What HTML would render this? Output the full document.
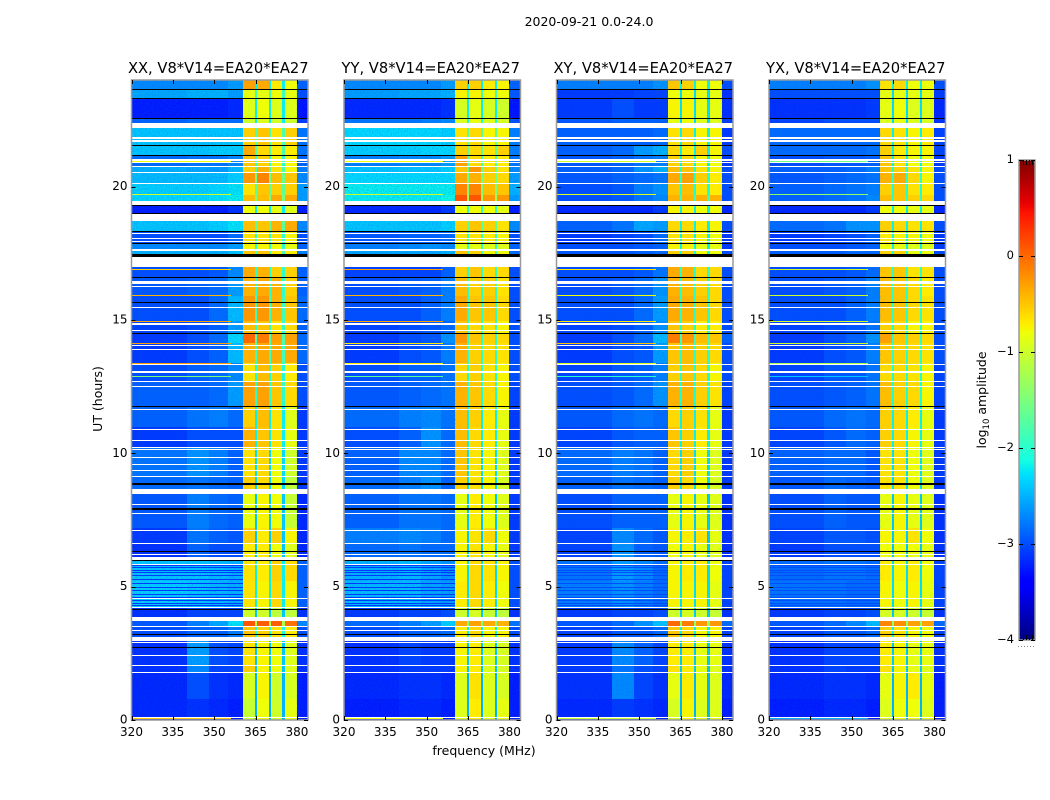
<!DOCTYPE html>
<html lang="en">
<head>
<meta charset="utf-8">
<title>2020-09-21 dynamic spectra</title>
<style>
html,body{margin:0;padding:0;background:#fff;width:1050px;height:800px;overflow:hidden}
svg{display:block}
text{font-family:"DejaVu Sans","Liberation Sans",sans-serif;fill:#000}
</style>
</head>
<body>
<svg id="figure" width="1050" height="800" viewBox="0 0 1050 800" xmlns="http://www.w3.org/2000/svg">
  <defs>
    <filter id="speckle" x="0" y="0" width="100%" height="100%">
      <feTurbulence type="fractalNoise" baseFrequency="0.8" numOctaves="1" seed="4"/>
      <feColorMatrix type="matrix" values="0 0 0 0 0  0 0 0 0 0.1  0 0 0 0 0.75  2.6 0 0 0 -1.15"/>
    </filter>
  </defs>
  <text x="589" y="26" text-anchor="middle" font-size="12.5">2020-09-21 0.0-24.0</text>
  <text x="484" y="755" text-anchor="middle" font-size="12.5">frequency (MHz)</text>
  <text x="0" y="0" transform="translate(102,399) rotate(-90)" text-anchor="middle" font-size="12.5">UT (hours)</text>
  <text x="0" y="0" transform="translate(986,400) rotate(-90)" text-anchor="middle" font-size="12.5">log<tspan font-size="8.5" dy="3">10</tspan><tspan dy="-3"> amplitude</tspan></text>
  <g id="panels"></g>
  <g id="colorbar"></g>
</svg>
<script>
// ----- chart data (UT hours, MHz, log10 amplitude) -----
const panelTitles = ["XX, V8*V14=EA20*EA27","YY, V8*V14=EA20*EA27","XY, V8*V14=EA20*EA27","YX, V8*V14=EA20*EA27"];
const panelKeys = ["xx","yy","xy","yx"];
const freqTicks = [320,335,350,365,380];
const timeTicks = [0,5,10,15,20];
const colorTicks = [1,0,-1,-2,-3,-4];

// frequency zones of each level column: 320-340, 340-348, 348-355, 355-360.4, sub-bands, edge
const zoneEdges = [[320,340],[340,348],[348,355],[355,360.4],[360.4,364.7],[365.5,369.7],[370.5,374.7],[375.5,380],[380,384]];
const notchEdges = [[364.7,365.5],[369.7,370.5],[374.7,375.5]];

// upper UT of every band; the last band runs down to 0
const bandTops = [24,23.67,23.30,22.55,22.21,21.57,21.17,20.76,20.50,20.10,19.70,19.30,18.73,18.33,17.89,17.65,16.97,16.6,15.9,14.96,14.49,14.15,13.4,12.73,11.78,11.0,10.2,9.14,8.46,7.2,6.65,6.0,5.2,4.2,3.72,3.51,2.98,2.07,1.79,0.8];

// one row per band: 4 low zones, 4 sub-bands, edge, notch
const xxLevels = [
[-2.7,-2.7,-2.7,-2.6,-.3,-.35,-.7,-.8,-2.9,-2.2],
[-2.55,-2.5,-2.5,-2.6,-.85,-.85,-.8,-.85,-3.0,-1.9],
[-3.25,-3.25,-3.25,-3.2,-.9,-.8,-.9,-.9,-3.3,-2.2],
[-2.9,-2.85,-2.85,-2.85,-1.0,-.9,-1.0,-1.0,-3.1,-2.2],
[-2.4,-2.4,-2.4,-2.4,-.55,-.5,-.65,-.55,-2.8,-1.8],
[-2.4,-2.4,-2.35,-2.35,-.35,-.6,-.7,-.7,-2.8,-1.8],
[-2.85,-2.8,-2.8,-2.7,-.5,-.55,-.75,-.75,-2.9,-2.0],
[-2.5,-2.55,-2.6,-2.45,-.55,-.4,-.65,-.75,-2.75,-1.8],
[-2.45,-2.45,-2.45,-2.35,-.25,-.15,-.45,-.5,-2.7,-1.6],
[-2.35,-2.35,-2.3,-2.25,-.65,-.5,-.55,-.55,-2.6,-1.7],
[-2.3,-2.3,-2.25,-2.2,-.45,-.45,-.35,-.35,-2.6,-1.5],
[-3.25,-3.25,-3.25,-3.15,-.8,-.8,-.85,-.9,-3.25,-2.2],
[-2.4,-2.4,-2.35,-2.25,-.45,-.5,-.4,-.35,-2.7,-1.7],
[-3.0,-3.0,-3.0,-2.85,-.65,-.65,-.65,-.75,-3.0,-2.0],
[-2.7,-2.7,-2.7,-2.6,-.75,-.75,-.8,-.85,-2.9,-2.0],
[-2.5,-2.5,-2.5,-2.4,-.5,-.5,-.7,-.7,-2.75,-1.8],
[-3.0,-3.0,-2.95,-2.7,-.35,-.4,-.55,-.55,-2.9,-2.0],
[-2.95,-2.9,-2.85,-2.6,-.4,-.35,-.4,-.55,-2.9,-2.0],
[-3.0,-3.0,-2.85,-2.45,-.25,-.25,-.4,-.5,-2.85,-1.9],
[-3.05,-3.0,-2.9,-2.6,-.45,-.5,-.65,-.6,-2.9,-2.0],
[-3.1,-3.0,-2.85,-2.3,.0,-.1,-.3,-.3,-2.85,-1.8],
[-3.1,-3.0,-2.9,-2.45,-.4,-.35,-.35,-.35,-2.85,-1.9],
[-3.0,-2.9,-2.85,-2.7,-.65,-.45,-.55,-.7,-3.0,-2.1],
[-2.9,-2.9,-2.85,-2.6,-.3,-.3,-.5,-.6,-3.0,-2.0],
[-2.9,-2.8,-2.75,-2.85,-.55,-.45,-.65,-.9,-3.1,-2.2],
[-3.1,-3.0,-3.0,-3.0,-.4,-.5,-.65,-.85,-3.1,-2.2],
[-2.8,-2.65,-2.75,-2.9,-.65,-.6,-.8,-1.0,-3.1,-2.3],
[-2.85,-2.8,-2.85,-2.9,-.55,-.6,-.8,-1.1,-3.1,-2.3],
[-2.95,-2.75,-2.85,-2.9,-.85,-.75,-.8,-1.05,-3.2,-2.4],
[-3.1,-2.8,-2.9,-2.95,-.55,-.7,-.55,-.75,-3.2,-2.4],
[-3.15,-2.9,-3.0,-3.0,-.7,-.7,-.8,-.9,-3.2,-2.4],
[-2.4,-2.4,-2.45,-2.5,-.65,-.7,-.55,-.6,-2.9,-2.2],
[-2.35,-2.4,-2.45,-2.5,-.65,-.75,-.6,-.75,-2.9,-2.2],
[-3.15,-3.05,-3.05,-3.05,-1.0,-1.0,-1.1,-1.1,-3.15,-2.4],
[-2.95,-2.75,-2.55,-2.25,.1,.05,.05,-.05,-2.7,-1.2],
[-3.0,-2.9,-2.9,-2.75,-.5,-.55,-.65,-.7,-3.0,-2.1],
[-3.15,-2.6,-3.0,-3.05,-.65,-.75,-.8,-.9,-3.15,-2.4],
[-3.15,-2.7,-3.05,-3.05,-.55,-.75,-.8,-.9,-3.15,-2.4],
[-3.2,-3.0,-3.15,-3.2,-.95,-.75,-1.0,-.95,-3.25,-2.5],
[-3.2,-3.15,-3.2,-3.25,-1.05,-.8,-1.0,-.85,-3.25,-2.5]];

const yyLevels = [
[-2.7,-2.7,-2.7,-2.6,-.55,-.55,-.7,-.75,-2.9,-2.2],
[-2.6,-2.55,-2.55,-2.5,-.75,-.75,-.8,-.8,-2.95,-1.9],
[-3.2,-3.2,-3.2,-3.15,-.95,-.85,-.95,-1.0,-3.3,-2.2],
[-2.8,-2.8,-2.75,-2.7,-.9,-.85,-.9,-.95,-3.0,-2.1],
[-2.3,-2.3,-2.3,-2.35,-.65,-.6,-.75,-.75,-2.75,-1.7],
[-2.35,-2.35,-2.3,-2.3,-.55,-.6,-.65,-.55,-2.75,-1.7],
[-2.75,-2.7,-2.7,-2.6,-.3,-.6,-.7,-.7,-2.8,-1.9],
[-2.4,-2.4,-2.4,-2.35,-.5,-.25,-.55,-.65,-2.7,-1.7],
[-2.3,-2.3,-2.3,-2.3,-.35,-.4,-.55,-.6,-2.6,-1.6],
[-2.2,-2.2,-2.2,-2.2,-.15,-.15,-.45,-.5,-2.5,-1.5],
[-2.2,-2.2,-2.2,-2.15,.1,.1,-.25,-.25,-2.6,-1.3],
[-3.2,-3.2,-3.2,-3.1,-.8,-.8,-.8,-.85,-3.25,-2.0],
[-2.4,-2.4,-2.4,-2.35,-.55,-.5,-.55,-.65,-2.7,-1.7],
[-2.95,-2.9,-2.9,-2.85,-.65,-.65,-.7,-.75,-3.0,-2.0],
[-2.75,-2.7,-2.65,-2.7,-.85,-.85,-.9,-.9,-2.9,-2.0],
[-2.55,-2.55,-2.55,-2.5,-.5,-.55,-.75,-.8,-2.85,-1.9],
[-3.05,-3.05,-3.05,-2.9,-.55,-.5,-.6,-.6,-3.0,-2.0],
[-3.0,-2.95,-2.9,-2.75,-.45,-.55,-.55,-.65,-3.0,-2.0],
[-3.0,-3.0,-2.9,-2.75,-.35,-.5,-.5,-.6,-3.0,-2.0],
[-3.05,-3.0,-2.95,-2.85,-.5,-.6,-.65,-.75,-3.0,-2.0],
[-3.1,-3.0,-2.95,-2.65,-.25,-.5,-.55,-.6,-3.0,-2.0],
[-3.1,-3.0,-2.95,-2.75,-.4,-.55,-.6,-.65,-3.0,-2.0],
[-3.0,-2.9,-2.9,-2.8,-.6,-.55,-.65,-.75,-3.0,-2.1],
[-2.95,-2.9,-2.85,-2.8,-.4,-.5,-.6,-.75,-3.05,-2.1],
[-2.85,-2.75,-2.7,-2.8,-.45,-.55,-.7,-.85,-3.1,-2.2],
[-3.0,-2.9,-2.65,-2.85,-.45,-.6,-.7,-.85,-3.1,-2.2],
[-2.9,-2.7,-2.7,-2.85,-.5,-.65,-.75,-.9,-3.1,-2.3],
[-2.85,-2.75,-2.65,-2.9,-.55,-.65,-.75,-.95,-3.1,-2.3],
[-2.9,-2.8,-2.8,-2.85,-.85,-.7,-.8,-.9,-3.1,-2.4],
[-2.75,-2.7,-2.75,-2.85,-.75,-.65,-.6,-.8,-3.1,-2.4],
[-2.85,-2.8,-2.85,-2.85,-.75,-.65,-.75,-.85,-3.1,-2.4],
[-2.5,-2.45,-2.55,-2.65,-.75,-.6,-.65,-.75,-3.0,-2.3],
[-2.45,-2.45,-2.55,-2.6,-.7,-.6,-.7,-.8,-3.0,-2.3],
[-3.1,-3.05,-3.05,-3.0,-1.0,-.95,-1.05,-1.1,-3.15,-2.4],
[-2.85,-2.75,-2.6,-2.35,-.35,-.3,-.35,-.4,-2.8,-1.5],
[-3.0,-2.9,-2.9,-2.85,-.7,-.6,-.75,-.75,-3.0,-2.2],
[-3.15,-3.05,-3.1,-3.1,-.75,-.7,-.9,-.95,-3.15,-2.4],
[-3.15,-3.1,-3.1,-3.1,-.75,-.7,-.9,-.95,-3.15,-2.4],
[-3.2,-3.15,-3.15,-3.2,-.9,-.65,-.9,-.95,-3.25,-2.5],
[-3.25,-3.2,-3.2,-3.25,-.9,-.7,-.9,-.85,-3.25,-2.5]];

const xyLevels = [
[-2.75,-2.75,-2.75,-2.65,-.5,-.55,-.8,-.8,-3.0,-2.2],
[-3.1,-3.1,-3.05,-3.05,-.8,-.8,-.85,-.85,-3.15,-2.3],
[-3.1,-3.0,-3.1,-3.1,-.75,-.75,-.85,-.85,-3.15,-2.3],
[-2.95,-2.9,-2.9,-2.9,-.85,-.8,-.9,-.9,-3.1,-2.3],
[-2.9,-2.9,-2.9,-2.85,-.65,-.6,-.75,-.75,-3.1,-2.2],
[-2.9,-2.85,-2.6,-2.5,-.6,-.7,-.55,-.75,-3.0,-2.2],
[-2.95,-2.9,-2.8,-2.75,-.55,-.6,-.75,-.8,-3.1,-2.2],
[-2.9,-2.85,-2.65,-2.5,-.45,-.5,-.65,-.75,-3.0,-2.1],
[-2.95,-2.9,-2.85,-2.8,-.35,-.3,-.55,-.7,-3.0,-2.0],
[-3.0,-2.95,-2.75,-2.65,-.5,-.45,-.65,-.7,-3.0,-2.1],
[-3.0,-2.95,-2.8,-2.7,-.4,-.4,-.4,-.4,-3.0,-1.9],
[-3.2,-3.2,-3.2,-3.1,-.75,-.75,-.8,-.8,-3.2,-2.2],
[-2.9,-2.8,-2.55,-2.6,-.6,-.6,-.7,-.75,-3.0,-2.2],
[-3.1,-3.05,-3.0,-2.85,-.65,-.65,-.75,-.8,-3.1,-2.2],
[-3.0,-3.0,-2.95,-2.9,-.75,-.75,-.85,-.85,-3.1,-2.2],
[-2.95,-2.95,-2.9,-2.85,-.55,-.55,-.8,-.8,-3.0,-2.1],
[-3.0,-3.0,-2.95,-2.8,-.35,-.4,-.6,-.6,-3.0,-2.0],
[-3.0,-2.95,-2.85,-2.65,-.4,-.45,-.55,-.6,-3.0,-2.0],
[-3.0,-3.0,-2.85,-2.6,-.35,-.4,-.5,-.6,-3.0,-2.0],
[-3.05,-3.0,-2.9,-2.65,-.5,-.55,-.7,-.7,-3.0,-2.1],
[-3.1,-3.0,-2.85,-2.45,-.1,-.25,-.45,-.5,-2.9,-1.9],
[-3.1,-3.0,-2.95,-2.6,-.5,-.45,-.55,-.6,-3.0,-2.0],
[-3.05,-2.95,-2.9,-2.75,-.55,-.5,-.6,-.75,-3.0,-2.1],
[-3.0,-2.95,-2.85,-2.65,-.4,-.4,-.55,-.65,-3.05,-2.1],
[-2.95,-2.85,-2.8,-2.85,-.6,-.55,-.65,-.85,-3.1,-2.2],
[-3.05,-2.95,-2.9,-2.9,-.5,-.55,-.7,-.85,-3.1,-2.2],
[-2.85,-2.75,-2.8,-2.9,-.6,-.55,-.8,-.9,-3.1,-2.3],
[-2.9,-2.8,-2.85,-2.9,-.55,-.6,-.8,-.95,-3.1,-2.3],
[-3.0,-2.9,-2.9,-2.9,-.85,-.75,-.85,-.9,-3.15,-2.4],
[-3.05,-2.7,-2.85,-2.95,-.75,-.7,-.65,-.85,-3.15,-2.4],
[-3.05,-2.65,-2.9,-2.95,-.8,-.75,-.85,-.9,-3.15,-2.4],
[-2.8,-2.6,-2.7,-2.85,-.75,-.7,-.7,-.8,-3.05,-2.3],
[-2.75,-2.65,-2.75,-2.85,-.75,-.75,-.75,-.85,-3.05,-2.3],
[-3.1,-3.05,-3.05,-3.0,-1.0,-.95,-1.0,-1.05,-3.15,-2.4],
[-2.95,-2.85,-2.65,-2.4,.0,-.1,-.25,-.25,-2.85,-1.4],
[-3.05,-2.95,-2.95,-2.85,-.5,-.6,-.75,-.75,-3.05,-2.2],
[-3.1,-2.7,-2.9,-3.05,-.7,-.7,-.85,-.85,-3.15,-2.4],
[-3.1,-2.8,-3.0,-3.05,-.65,-.7,-.85,-.9,-3.15,-2.4],
[-3.15,-2.7,-3.05,-3.15,-.85,-.7,-.85,-.9,-3.2,-2.5],
[-3.2,-3.1,-3.15,-3.2,-.95,-.75,-.9,-.9,-3.25,-2.5]];

const yxLevels = [
[-2.75,-2.75,-2.75,-2.65,-.65,-.6,-.8,-.8,-3.0,-2.2],
[-3.0,-3.0,-3.0,-3.0,-.85,-.85,-.85,-.85,-3.1,-2.3],
[-3.15,-3.15,-3.15,-3.1,-.85,-.8,-.9,-.9,-3.2,-2.3],
[-3.05,-3.0,-3.0,-3.0,-.9,-.85,-.9,-.95,-3.15,-2.3],
[-2.85,-2.85,-2.85,-2.85,-.6,-.65,-.75,-.7,-3.05,-2.2],
[-2.85,-2.85,-2.85,-2.8,-.55,-.7,-.75,-.75,-3.05,-2.2],
[-3.0,-2.95,-2.95,-2.9,-.5,-.65,-.8,-.8,-3.1,-2.2],
[-2.9,-2.9,-2.85,-2.75,-.5,-.55,-.65,-.75,-3.0,-2.1],
[-2.95,-2.9,-2.85,-2.8,-.4,-.35,-.6,-.75,-3.0,-2.0],
[-2.9,-2.85,-2.8,-2.75,-.55,-.5,-.65,-.7,-3.0,-2.1],
[-2.9,-2.85,-2.8,-2.7,-.45,-.5,-.55,-.6,-3.0,-2.0],
[-3.2,-3.2,-3.2,-3.1,-.8,-.8,-.85,-.85,-3.2,-2.2],
[-2.85,-2.8,-2.65,-2.65,-.55,-.6,-.65,-.65,-3.0,-2.2],
[-3.1,-3.05,-3.0,-2.9,-.7,-.75,-.75,-.8,-3.1,-2.2],
[-3.0,-3.0,-2.95,-2.9,-.8,-.85,-.9,-.9,-3.1,-2.2],
[-2.9,-2.9,-2.85,-2.85,-.55,-.55,-.85,-.85,-3.0,-2.1],
[-3.0,-3.0,-2.95,-2.85,-.5,-.5,-.65,-.65,-3.0,-2.0],
[-3.0,-2.95,-2.9,-2.75,-.45,-.5,-.6,-.7,-3.0,-2.0],
[-3.0,-3.0,-2.9,-2.75,-.45,-.5,-.6,-.65,-3.0,-2.0],
[-3.05,-3.0,-2.95,-2.8,-.55,-.6,-.75,-.75,-3.0,-2.1],
[-3.1,-3.0,-2.9,-2.65,-.3,-.5,-.55,-.6,-3.0,-2.0],
[-3.1,-3.0,-2.95,-2.75,-.5,-.55,-.6,-.65,-3.0,-2.0],
[-3.05,-2.95,-2.95,-2.8,-.6,-.6,-.65,-.75,-3.05,-2.1],
[-3.0,-2.95,-2.9,-2.8,-.45,-.55,-.6,-.75,-3.05,-2.1],
[-2.95,-2.85,-2.8,-2.85,-.55,-.6,-.7,-.85,-3.1,-2.2],
[-3.05,-2.95,-2.85,-2.9,-.55,-.6,-.75,-.85,-3.1,-2.2],
[-2.9,-2.85,-2.85,-2.95,-.65,-.65,-.8,-.9,-3.1,-2.3],
[-2.95,-2.85,-2.9,-2.95,-.65,-.65,-.8,-.9,-3.1,-2.3],
[-3.0,-2.9,-2.95,-2.95,-.85,-.75,-.85,-.9,-3.15,-2.4],
[-3.05,-2.95,-2.95,-3.0,-.75,-.75,-.65,-.8,-3.15,-2.4],
[-3.1,-3.0,-3.0,-3.0,-.8,-.8,-.8,-.85,-3.15,-2.4],
[-2.85,-2.8,-2.8,-2.85,-.7,-.75,-.7,-.8,-3.05,-2.3],
[-2.8,-2.8,-2.85,-2.85,-.75,-.8,-.75,-.85,-3.05,-2.3],
[-3.1,-3.05,-3.05,-3.0,-.95,-.95,-1.0,-1.05,-3.15,-2.4],
[-2.95,-2.85,-2.7,-2.45,-.15,-.2,-.3,-.3,-2.85,-1.4],
[-3.05,-2.95,-2.95,-2.85,-.55,-.65,-.75,-.8,-3.05,-2.2],
[-3.15,-3.05,-3.05,-3.05,-.7,-.75,-.85,-.85,-3.15,-2.4],
[-3.15,-3.05,-3.1,-3.1,-.65,-.75,-.85,-.9,-3.15,-2.4],
[-3.2,-3.15,-3.15,-3.2,-.85,-.75,-.7,-.85,-3.25,-2.5],
[-3.25,-3.2,-3.2,-3.25,-.9,-.8,-.8,-.9,-3.25,-2.5]];

// narrow interference lines in the low zones
const rfiHours = [0.06,12.91,13.40,14.15,14.96,15.93,16.9,19.72,20.95];
const rfiXX = [-.5,-1.5,-.3,-.3,-.3,-.4,-.6,-1.0,-.8];
const rfiYY = [-.8,-1.7,-.7,-.7,-.3,-.4,-.3,-1.0,-.8];
const rfiXY = [-1.0,-2.0,-.9,-.5,-.7,-.8,-.7,-.9,-1.0];
const rfiYX = [-2.5,-2.4,-1.2,-1.0,-1.0,-1.0,-1.0,-1.4,-1.6];

// darker rows in the 4-6 h striped section
const stripeHours = [5.80,5.72,5.64,5.55,5.45,5.30,5.15,5.00,4.88,4.72,4.60,4.50,4.38,4.30];
const stripeLevels = [-3.1,-3.1,-3.0,-3.0];

// flagged (blank) and zero-amplitude (black) time ranges, [upper, lower] UT
const blankRanges = [[22.37,22.21],[21.85,21.79],[21.74,21.66],[21.02,20.97],[20.91,20.87],[20.76,20.72],[20.54,20.50],[20.15,20.10],[19.47,19.30],[18.97,18.73],[18.25,18.21],[18.08,18.04],[17.98,17.95],[17.65,17.59],[17.35,16.97],[16.48,16.35],[16.26,16.22],[15.48,15.44],[14.87,14.82],[14.61,14.57],[14.05,14.01],[13.93,13.89],[13.35,13.31],[13.07,13.03],[12.73,12.69],[12.53,12.47],[11.68,11.64],[10.92,10.88],[10.49,10.45],[10.23,10.19],[10.16,10.12],[9.87,9.83],[9.61,9.57],[9.38,9.34],[9.14,9.10],[8.67,8.46],[8.11,8.07],[7.76,7.72],[7.13,7.09],[6.65,6.61],[6.23,6.19],[6.11,6.01],[5.86,5.82],[4.58,4.54],[4.23,4.19],[3.88,3.72],[3.51,3.47],[3.38,3.34],[3.13,2.98],[2.92,2.88],[2.45,2.41],[2.07,2.03],[1.79,1.75],[0.12,0.08]];
const blackRanges = [[23.68,23.65],[23.31,23.28],[22.56,22.53],[21.58,21.55],[21.18,21.15],[19.30,19.26],[19.02,18.97],[18.33,18.29],[17.89,17.85],[17.49,17.35],[16.61,16.58],[15.68,15.65],[14.50,14.47],[11.79,11.76],[8.90,8.83],[7.95,7.86],[6.32,6.29],[6.01,5.98],[4.18,4.15],[3.21,3.18],[2.72,2.69]];

const allLevels = {xx:xxLevels, yy:yyLevels, xy:xyLevels, yx:yxLevels};
const allRfi = {xx:rfiXX, yy:rfiYY, xy:rfiXY, yx:rfiYX};

// ----- layout and scales -----
const SVGNS = "http://www.w3.org/2000/svg";
const panelLeft = [131.5,344,556.5,769];
const panelWidth = 176.5, plotTop = 80, plotBottom = 720;
const freqMin = 320, freqMax = 384, timeMin = 0, timeMax = 24, colorMin = -4, colorMax = 1;
const barLeft = 1019, barRight = 1035, barTop = 160, barBottom = 640;

function xScale(f, p){ return panelLeft[p] + (f - freqMin) / (freqMax - freqMin) * panelWidth; }
function yScale(t){ return plotBottom - (t - timeMin) / (timeMax - timeMin) * (plotBottom - plotTop); }
function colorY(v){ return barBottom - (v - colorMin) / (colorMax - colorMin) * (barBottom - barTop); }

function ramp(pts, v){
  if (v <= pts[0][0]) return pts[0][1];
  for (let i = 1; i < pts.length; i++) {
    if (v <= pts[i][0]) return pts[i-1][1] + (pts[i][1] - pts[i-1][1]) * (v - pts[i-1][0]) / (pts[i][0] - pts[i-1][0]);
  }
  return pts[pts.length-1][1];
}
const jetR = [[.35,0],[.66,1],[.89,1],[1,.5]];
const jetG = [[.125,0],[.375,1],[.64,1],[.91,0]];
const jetB = [[0,.5],[.11,1],[.34,1],[.65,0]];
function jet(level){
  const v = Math.max(0, Math.min(1, (level - colorMin) / (colorMax - colorMin)));
  return "rgb(" + Math.round(255*ramp(jetR,v)) + "," + Math.round(255*ramp(jetG,v)) + "," + Math.round(255*ramp(jetB,v)) + ")";
}

function rect(parent, x0, y0, x1, y1, fill){
  const el = document.createElementNS(SVGNS, "rect");
  const ax = Math.round(x0), ay = Math.round(y0);
  el.setAttribute("x", ax);
  el.setAttribute("y", ay);
  el.setAttribute("width", Math.max(1, Math.round(x1) - ax));
  el.setAttribute("height", Math.max(1, Math.round(y1) - ay));
  el.setAttribute("fill", fill);
  parent.appendChild(el);
  return el;
}
function group(parent){
  const el = document.createElementNS(SVGNS, "g");
  parent.appendChild(el);
  return el;
}
function label(parent, x, y, anchor, str){
  const el = document.createElementNS(SVGNS, "text");
  el.setAttribute("x", x);
  el.setAttribute("y", y);
  el.setAttribute("text-anchor", anchor);
  el.setAttribute("font-size", "12");
  el.textContent = str;
  parent.appendChild(el);
  return el;
}
function tick(parent, x1, y1, x2, y2){
  const el = document.createElementNS(SVGNS, "line");
  el.setAttribute("x1", x1);
  el.setAttribute("y1", y1);
  el.setAttribute("x2", x2);
  el.setAttribute("y2", y2);
  el.setAttribute("stroke", "#000");
  el.setAttribute("stroke-width", "1");
  el.setAttribute("shape-rendering", "crispEdges");
  parent.appendChild(el);
  
  
  return el;
}

// ----- panels -----
const panelsRoot = document.getElementById("panels");
panelKeys.forEach(function(key, p){
  const levels = allLevels[key];
  const rfi = allRfi[key];
  const g = group(panelsRoot);
  
  

  const title = document.createElementNS(SVGNS, "text");
  title.setAttribute("x", panelLeft[p] + panelWidth/2 - 1.5);
  title.setAttribute("y", 73);
  title.setAttribute("text-anchor", "middle");
  title.setAttribute("font-size", "14.7");
  title.textContent = panelTitles[p];
  
  
  g.appendChild(title);

  const heat = group(g);
  
  
  heat.setAttribute("shape-rendering", "crispEdges");
  bandTops.forEach(function(top, b){
    const bottom = b + 1 < bandTops.length ? bandTops[b+1] : timeMin;
    const row = levels[b];
    zoneEdges.forEach(function(z, c){
      const cell = rect(heat, xScale(z[0],p), yScale(top), xScale(z[1],p), yScale(bottom), jet(row[c]));
      
      
    });
    notchEdges.forEach(function(z){
      const cell = rect(heat, xScale(z[0],p), yScale(top), xScale(z[1],p), yScale(bottom), jet(row[9]));
      
      
    });
  });
  stripeHours.forEach(function(t){
    const s = rect(heat, xScale(320,p), yScale(t), xScale(360.4,p), yScale(t) + 1, jet(stripeLevels[p]));
    
    
  });

  // speckle texture only over the low-amplitude part of the band
  const grainSpans = [[320,360.4],[380,384]];
  grainSpans.forEach(function(span){
    const grain = document.createElementNS(SVGNS, "rect");
    grain.setAttribute("x", xScale(span[0],p));
    grain.setAttribute("y", plotTop);
    grain.setAttribute("width", xScale(span[1],p) - xScale(span[0],p));
    grain.setAttribute("height", plotBottom - plotTop);
    grain.setAttribute("filter", "url(#speckle)");
    grain.setAttribute("opacity", "0.4");
    
    
    g.appendChild(grain);
  });

  const flags = group(g);
  
  
  flags.setAttribute("shape-rendering", "crispEdges");
  blankRanges.forEach(function(r){
    const s = rect(flags, panelLeft[p], yScale(r[0]), panelLeft[p] + panelWidth, yScale(r[1]), "#fff");
    
    
  });
  blackRanges.forEach(function(r){
    const s = rect(flags, panelLeft[p], yScale(r[0]), panelLeft[p] + panelWidth, yScale(r[1]), "#000");
    
    
  });

  const lines = group(g);
  
  
  lines.setAttribute("shape-rendering", "crispEdges");
  rfiHours.forEach(function(t, i){
    const s = rect(lines, xScale(320,p), yScale(t), xScale(356,p), yScale(t) + 1, jet(rfi[i]));
    
    
  });

  const frame = document.createElementNS(SVGNS, "rect");
  frame.setAttribute("x", panelLeft[p]);
  frame.setAttribute("y", plotTop);
  frame.setAttribute("width", panelWidth);
  frame.setAttribute("height", plotBottom - plotTop);
  frame.setAttribute("fill", "none");
  frame.setAttribute("stroke", "#9a9a9a");
  frame.setAttribute("stroke-width", "1.5");
  
  
  g.appendChild(frame);

  const axes = group(g);
  
  
  freqTicks.forEach(function(f){
    const x = Math.round(xScale(f,p)) + 0.5;
    tick(axes, x, plotBottom, x, plotBottom - 4);
    tick(axes, x, plotTop, x, plotTop + 4);
    const t = label(axes, xScale(f,p), 736, "middle", String(f));
    
    
  });
  timeTicks.forEach(function(v){
    const y = Math.round(yScale(v)) + 0.5;
    tick(axes, panelLeft[p], y, panelLeft[p] + 4, y);
    tick(axes, panelLeft[p] + panelWidth, y, panelLeft[p] + panelWidth - 4, y);
    const t = label(axes, panelLeft[p] - 4, yScale(v) + 3.5, "end", String(v));
    
    
  });
});

// ----- colour bar -----
const cb = document.getElementById("colorbar");
const cbRamp = group(cb);


cbRamp.setAttribute("shape-rendering", "crispEdges");
for (let i = 0; i < barBottom - barTop; i++) {
  const s = rect(cbRamp, barLeft, barTop + i, barRight, barTop + i + 1, jet(colorMax - (i + .5) / (barBottom - barTop) * (colorMax - colorMin)));
  
  
}
const cbFrame = document.createElementNS(SVGNS, "rect");
cbFrame.setAttribute("x", barLeft);
cbFrame.setAttribute("y", barTop);
cbFrame.setAttribute("width", barRight - barLeft);
cbFrame.setAttribute("height", barBottom - barTop);
cbFrame.setAttribute("fill", "none");
cbFrame.setAttribute("stroke", "#9a9a9a");
cbFrame.setAttribute("stroke-width", "1.5");


cb.appendChild(cbFrame);
colorTicks.forEach(function(v){
  const y = Math.round(colorY(v)) + 0.5;
  tick(cb, barLeft, y, barLeft + 4, y);
  tick(cb, barRight, y, barRight - 4, y);
  const str = v < 0 ? "\u2212" + Math.abs(v) : String(v);
  const t = label(cb, barLeft - 5, colorY(v) + 3, "end", str);
  t.setAttribute("font-size", "11.5");
  
  
});
[1023,1026,1029,1032].forEach(function(x){
  tick(cb, x + .5, barTop, x + .5, barTop + 5);
  tick(cb, x + .5, barBottom, x + .5, barBottom - 5);
});
const dots = document.createElementNS(SVGNS, "line");
dots.setAttribute("x1", 1018);
dots.setAttribute("x2", 1035);
dots.setAttribute("y1", 646.5);
dots.setAttribute("y2", 646.5);
dots.setAttribute("stroke", "#888");
dots.setAttribute("stroke-dasharray", "1 2");


cb.appendChild(dots);
</script>
</body>
</html>
